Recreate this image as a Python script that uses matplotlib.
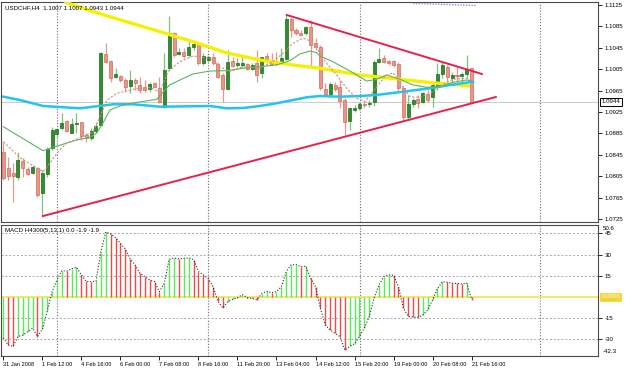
import matplotlib
matplotlib.use('Agg')
import matplotlib.pyplot as plt
import numpy as np
from matplotlib.transforms import blended_transform_factory

plt.rcParams['font.family'] = ['Liberation Sans', 'DejaVu Sans']

# ---------------- data ----------------
opens = [1.08509, 1.08198, 1.08104, 1.08042, 1.08335, 1.08179, 1.08104, 1.08198, 1.07731, 1.08092,
         1.08572, 1.08840, 1.08945, 1.09076, 1.08864, 1.09026, 1.09058, 1.08827, 1.08759, 1.08896,
         1.09002, 1.10329, 1.10204, 1.09899, 1.09924, 1.09849, 1.09737, 1.09849, 1.09755, 1.09724,
         1.09674, 1.09787, 1.09693, 1.09350, 1.10067, 1.10721, 1.10335, 1.10378, 1.10316, 1.10472,
         1.10534, 1.10160, 1.10223, 1.10285, 1.10148, 1.09942, 1.09674, 1.10204, 1.10123, 1.10129,
         1.10148, 1.10048, 1.10160, 1.09986, 1.10297, 1.10204, 1.10204, 1.10173, 1.10235, 1.10983,
         1.10783, 1.10734, 1.10721, 1.10846, 1.10534, 1.10472, 1.09674, 1.09587, 1.09755, 1.09712,
         1.09475, 1.09089, 1.09288, 1.09319, 1.09400, 1.09394, 1.09444, 1.10191, 1.10254, 1.10204,
         1.10204, 1.10148, 1.09706, 1.09151, 1.09400, 1.09488, 1.09444, 1.09581, 1.09537, 1.09749,
         1.09961, 1.10098, 1.09880, 1.09942, 1.09924, 1.09961, 1.10070]
highs = [1.08696, 1.08416, 1.08291, 1.08509, 1.08385, 1.08229, 1.08248, 1.08229, 1.08167, 1.08603,
         1.08977, 1.08958, 1.09226, 1.09101, 1.09132, 1.09226, 1.09070, 1.08852, 1.08945, 1.09039,
         1.10378, 1.10547, 1.10223, 1.10067, 1.09942, 1.09880, 1.10036, 1.09880, 1.09899, 1.09849,
         1.09818, 1.09818, 1.09911, 1.10347, 1.11045, 1.10752, 1.10441, 1.10441, 1.10596, 1.10596,
         1.10565, 1.10347, 1.10316, 1.10347, 1.10191, 1.09973, 1.10410, 1.10285, 1.10254, 1.10285,
         1.10173, 1.10160, 1.10410, 1.10285, 1.10347, 1.10360, 1.10378, 1.10441, 1.11064, 1.11001,
         1.10814, 1.10783, 1.10858, 1.10970, 1.10628, 1.10503, 1.09787, 1.09818, 1.09818, 1.09849,
         1.09506, 1.09350, 1.09382, 1.09444, 1.09444, 1.09475, 1.10223, 1.10441, 1.10316, 1.10223,
         1.10223, 1.10191, 1.09737, 1.09568, 1.09506, 1.09568, 1.09631, 1.09662, 1.09787, 1.10160,
         1.10191, 1.10129, 1.10005, 1.10098, 1.10005, 1.10316, 1.10070]
lows = [1.07980, 1.07980, 1.07575, 1.07980, 1.08042, 1.08073, 1.08086, 1.07656, 1.07295, 1.08042,
        1.08541, 1.08790, 1.08914, 1.08883, 1.08852, 1.08852, 1.08727, 1.08696, 1.08727, 1.08852,
        1.08989, 1.10160, 1.09818, 1.09880, 1.09818, 1.09631, 1.09600, 1.09662, 1.09600, 1.09631,
        1.09631, 1.09712, 1.09413, 1.09319, 1.10036, 1.10285, 1.10316, 1.10254, 1.10285, 1.10410,
        1.10129, 1.10129, 1.10191, 1.10129, 1.09880, 1.09444, 1.09662, 1.10098, 1.10098, 1.10098,
        1.10036, 1.10036, 1.09818, 1.09880, 1.10160, 1.10129, 1.10129, 1.10160, 1.10223, 1.10659,
        1.10690, 1.10671, 1.10690, 1.10067, 1.10410, 1.09662, 1.09568, 1.09537, 1.09649, 1.09319,
        1.08821, 1.08914, 1.09257, 1.09288, 1.09319, 1.09350, 1.09363, 1.10160, 1.10160, 1.10129,
        1.10098, 1.09631, 1.09101, 1.09101, 1.09350, 1.09319, 1.09413, 1.09444, 1.09350, 1.09662,
        1.09880, 1.09818, 1.09787, 1.09818, 1.09724, 1.09880, 1.09430]
closes = [1.08011, 1.08061, 1.08055, 1.08354, 1.08198, 1.08092, 1.08217, 1.07699, 1.08117, 1.08553,
          1.08914, 1.08927, 1.09051, 1.08902, 1.09026, 1.09051, 1.08808, 1.08771, 1.08902, 1.08989,
          1.10347, 1.10179, 1.09892, 1.09961, 1.09849, 1.09712, 1.09849, 1.09787, 1.09662, 1.09662,
          1.09774, 1.09724, 1.09444, 1.10036, 1.10721, 1.10316, 1.10378, 1.10297, 1.10472, 1.10522,
          1.10160, 1.10304, 1.10285, 1.10160, 1.09911, 1.09674, 1.10191, 1.10110, 1.10160, 1.10173,
          1.10048, 1.10129, 1.09942, 1.10272, 1.10204, 1.10142, 1.10148, 1.10254, 1.10983, 1.10783,
          1.10734, 1.10696, 1.10833, 1.10503, 1.10472, 1.09693, 1.09587, 1.09774, 1.09674, 1.09462,
          1.09070, 1.09319, 1.09332, 1.09400, 1.09382, 1.09425, 1.10191, 1.10235, 1.10191, 1.10160,
          1.10129, 1.09693, 1.09164, 1.09400, 1.09475, 1.09425, 1.09600, 1.09475, 1.09749, 1.09961,
          1.10129, 1.09899, 1.09942, 1.09924, 1.09961, 1.10048, 1.09440]

# moving averages (bar position, price)
ma_blue_x = [0, 3.4, 8.2, 15.7, 22.5, 26.6, 32.1, 42.4, 45.8, 49.2, 52.6, 56.0, 59.4, 62.2, 64.9,
             69.0, 73.1, 76.5, 82.0, 87.4, 92.9, 96.3]
ma_blue_y = [1.09536, 1.09474, 1.09362, 1.09319, 1.09394, 1.09394, 1.09349, 1.09362, 1.09319, 1.09325,
             1.09362, 1.09413, 1.09474, 1.09525, 1.09549, 1.09536, 1.09549, 1.09568, 1.09630, 1.09693,
             1.09773, 1.09816]
ma_yellow_x = [12.5, 13.05, 17.36, 24.73, 32.11, 38.87, 45.84, 52.6, 59.36, 64.9, 73.09, 81.29, 87.4, 95.63]
ma_yellow_y = [1.1133, 1.11293, 1.11157, 1.10951, 1.10751, 1.10564, 1.10353, 1.10222, 1.10129, 1.10067,
               1.09942, 1.09861, 1.09801, 1.09736]
ma_green_x = [0, 8.14, 10.59, 15.04, 17.77, 19.14, 20.43, 21.86, 23.91, 26.58, 31.43, 34.08, 36.21,
              38.87, 42.36, 45.78, 49.12, 52.6, 56.02, 58.75, 60.8, 62.85, 64.22, 64.9, 67.56, 71.66,
              74.47, 76.52, 78.57, 81.29, 83.95, 86.76, 89.49, 92.15, 94.96, 95.98]
ma_green_y = [1.08975, 1.08527, 1.08601, 1.08727, 1.08777, 1.08857, 1.09044, 1.09287, 1.09362, 1.09418,
              1.09487, 1.09755, 1.09848, 1.09960, 1.10016, 1.10022, 1.10067, 1.10097, 1.10129, 1.10209,
              1.10334, 1.10390, 1.10358, 1.10297, 1.10190, 1.09985, 1.09829, 1.09861, 1.09942, 1.09861,
              1.09755, 1.09712, 1.09723, 1.09805, 1.09848, 1.09830]
ma_fast_x = [0, 3.42, 8.2, 11.27, 13.05, 15.72, 18.38, 19.8, 21.25, 23.3, 26.58, 30.06, 32.11, 33.75,
             36.21, 38.87, 42.36, 44.41, 46.45, 49.12, 52.6, 55.27, 57.32, 59.36, 61.41, 63.46, 64.9,
             66.27, 68.32, 70.37, 72.42, 74.12, 75.76, 78.22, 79.86, 81.64, 83.34, 85.39, 87.44, 89.49,
             92.15, 94.96, 95.98]
ma_fast_y = [1.08695, 1.08396, 1.08134, 1.08508, 1.08671, 1.08764, 1.08876, 1.09157, 1.09474, 1.09600,
             1.09674, 1.09708, 1.09624, 1.10003, 1.10190, 1.10297, 1.10254, 1.10097, 1.10003, 1.10097,
             1.10067, 1.10190, 1.10347, 1.10534, 1.10628, 1.10564, 1.10347, 1.10160, 1.09942, 1.09693,
             1.09506, 1.09443, 1.09630, 1.09910, 1.09985, 1.09755, 1.09536, 1.09525, 1.09600, 1.09736,
             1.09861, 1.09880, 1.09835]
indic_top_x = [84, 97]
indic_top_y = [1.1128, 1.1124]

# trendlines (bar, price)
trend_low_x = [8.14, 100.96]
trend_low_y = [1.07306, 1.09530]
trend_up_x = [58.1, 98.1]
trend_up_y = [1.11063, 1.09960]

bid_price = 1.0944
price_ticks = [1.1125, 1.1085, 1.1045, 1.1005, 1.0965, 1.0925, 1.0885, 1.0845, 1.0805, 1.0765, 1.0725]

macd = [-29, -34, -35, -28, -27, -24.6, -22, -28, -23, -10,
        3.8, 12, 18.6, 18.3, 20, 21, 15.6, 11, 10.8, 11.2,
        32, 46, 44.7, 42, 38, 34, 27, 22.7, 16.8, 14.4,
        12, 10.9, 3.8, 9.7, 26.7, 27.5, 27, 27.3, 27.6, 26.5,
        18, 15.6, 13, 7.3, -3, -7.8, -3.3, -1.7, -0.5, 1.6,
        -0.5, -1, -2, 2.4, 4, 3, 3.7, 7.3, 18, 22.7,
        22.9, 21.5, 21.7, 13.2, 7.3, -8, -19.9, -23.4, -25.8, -28,
        -37.6, -35, -33, -28, -22, -14, -0.8, 8.5, 14.4, 15.6,
        15.3, 7.3, -7.8, -13.8, -14.2, -14.5, -12.8, -9.2, -2, 6,
        10.8, 10.4, 9.7, 9.6, 9.2, 9.7, -1.9]
macd_levels = [45, 30, 15, -15, -30]

date_bars = [0, 8, 16, 24, 32, 40, 48, 56, 64, 72, 80, 88, 96]
date_labels = ['31 Jan 2008', '1 Feb 12:00', '4 Feb 16:00', '6 Feb 00:00', '7 Feb 08:00',
               '8 Feb 16:00', '11 Feb 20:00', '13 Feb 04:00', '14 Feb 12:00', '15 Feb 20:00',
               '19 Feb 00:00', '20 Feb 08:00', '21 Feb 16:00']
separator_bars = [11.0, 41.9, 73.1, 110.0]

# ---------------- figure ----------------
W, H = 625, 368
fig = plt.figure(figsize=(W / 100, H / 100), dpi=100)
fig.patch.set_facecolor('white')


def frac(x0, y0, x1, y1):
    return [x0 / W, 1 - y1 / H, (x1 - x0) / W, (y1 - y0) / H]


ax = fig.add_axes(frac(1, 1.5, 598, 222))
ax2 = fig.add_axes(frac(1, 224.5, 598, 356))

xlim = (-0.47, 121.9)
FS = 4.4

o = np.array(opens); h = np.array(highs); l = np.array(lows); c = np.array(closes)
idx = np.arange(len(o))
bull = c >= o

wick_cols = np.where(bull, '#7cc47c', '#e39a92')
ax.vlines(idx, l, h, colors=wick_cols, lw=0.9, zorder=2)
body_h = np.maximum(np.abs(c - o), 0.00005)
ax.bar(idx[bull], body_h[bull], bottom=np.minimum(o, c)[bull], width=0.62,
       color='#2f8f2f', edgecolor='#1d6a1d', lw=0.5, zorder=3)
ax.bar(idx[~bull], body_h[~bull], bottom=np.minimum(o, c)[~bull], width=0.62,
       color='#eb9584', edgecolor='#d36a5c', lw=0.5, zorder=3)

ax.plot(ma_yellow_x, ma_yellow_y, color='#f4f000', lw=2.4, zorder=4, solid_capstyle='butt')
ax.plot(ma_blue_x, ma_blue_y, color='#22c4f2', lw=1.8, zorder=4)
ax.plot(ma_green_x, ma_green_y, color='#5cb55c', lw=0.8, zorder=5)
ax.plot(ma_fast_x, ma_fast_y, color='#d0907c', lw=0.8, ls=(0, (2, 1.5)), zorder=5)
ax.plot(indic_top_x, indic_top_y, color='#9c84e0', lw=1.0, ls=(0, (1, 1)), zorder=5)

ax.plot(trend_low_x, trend_low_y, color='#e8204c', lw=1.4, zorder=6)
ax.plot(trend_up_x, trend_up_y, color='#e8204c', lw=1.4, zorder=6)

ax.axhline(bid_price, color='#cfcfcf', lw=0.8, zorder=1)
for b in separator_bars:
    ax.axvline(b, color='#6a6a7a', lw=0.8, ls=(0, (1, 1.6)), zorder=1)
    ax2.axvline(b, color='#6a6a7a', lw=0.8, ls=(0, (1, 1.6)), zorder=1)

ax.set_xlim(*xlim)
ax.set_ylim(1.07194, 1.11315)
ax.set_xticks([])
ax.yaxis.tick_right()
ax.set_yticks(price_ticks)
ax.set_yticklabels([f'{t:.4f}' for t in price_ticks])
ax.tick_params(axis='y', direction='out', length=3, width=0.6, pad=2, labelsize=FS, colors='black')

tr = blended_transform_factory(ax.transAxes, ax.transData)
ax.text(1.006, bid_price, f'{bid_price:.4f}', transform=tr, ha='left', va='center', fontsize=FS,
        bbox=dict(facecolor='white', edgecolor='black', lw=0.7, pad=0.9), clip_on=False, zorder=10)

ax.text(0.007, 0.985, 'USDCHF,H4  1.1007 1.1007 1.0943 1.0944', transform=ax.transAxes,
        ha='left', va='top', fontsize=FS, color='black', zorder=10)

# ---------------- MACD ----------------
m = np.array(macd, dtype=float)
prev = np.concatenate([[m[0] - 1], m[:-1]])
mcols = np.where(m >= prev, '#55ee55', '#f04a4a')
ax2.vlines(idx, 0, m, colors=mcols, lw=1.0, zorder=3)
ax2.plot(idx, m, color='#303030', lw=0.8, ls=(0, (1, 1.6)), zorder=4)
ax2.axhline(0, color='#f8e45c', lw=1.3, zorder=2)
for lv in macd_levels:
    ax2.axhline(lv, color='#a8a8a8', lw=0.7, ls=(0, (2, 2)), zorder=1)

ax2.set_xlim(*xlim)
ax2.set_ylim(-41.8, 51.3)
ax2.yaxis.tick_right()
ax2.set_yticks(macd_levels)
ax2.set_yticklabels([str(v) for v in macd_levels])
ax2.tick_params(axis='y', direction='out', length=3, width=0.6, pad=2, labelsize=FS, colors='black')
ax2.set_xticks(date_bars)
labs = ax2.set_xticklabels(date_labels)
for t in labs:
    t.set_ha('left')
ax2.tick_params(axis='x', direction='out', length=3, width=0.6, pad=1.5, labelsize=4.1, colors='black')

tr2 = blended_transform_factory(ax2.transAxes, ax2.transAxes)
ax2.text(1.008, 0.985, '50.6', transform=tr2, ha='left', va='top', fontsize=FS, clip_on=False)
ax2.text(1.008, 0.015, '-42.3', transform=tr2, ha='left', va='bottom', fontsize=FS, clip_on=False)
tr3 = blended_transform_factory(ax2.transAxes, ax2.transData)
ax2.text(1.006, 0, '0.0000', transform=tr3, ha='left', va='center', fontsize=FS, color='white',
         bbox=dict(facecolor='#f2d22e', edgecolor='#f2d22e', lw=0.5, pad=0.9), clip_on=False, zorder=10)
ax2.text(0.007, 0.975, 'MACD H4300(5,13,1) 0.0 -1.9 -1.9', transform=ax2.transAxes,
         ha='left', va='top', fontsize=FS, color='black', zorder=10)

for a in (ax, ax2):
    a.set_facecolor('white')
    for s in a.spines.values():
        s.set_color('#4a4a4a')
        s.set_linewidth(0.8)

fig.savefig('out.png', dpi=100, facecolor='white')
